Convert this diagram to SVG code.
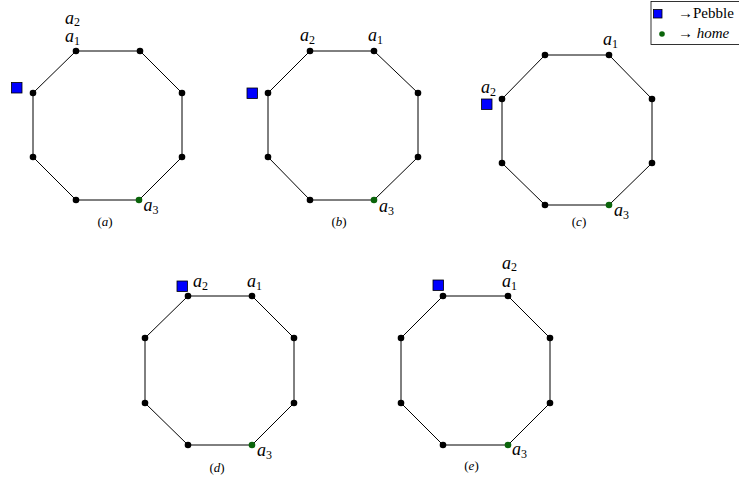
<svg xmlns="http://www.w3.org/2000/svg" width="739" height="483" viewBox="0 0 739 483">
<style>
.e{stroke:#000;stroke-width:1;fill:none}
.n{fill:#000}
.h{fill:#0a640a}
.p{fill:#0000ff;stroke:#000;stroke-width:0.8}
.lb{font-family:"Liberation Serif","DejaVu Serif",serif;font-style:italic;font-size:18px;fill:#000}
.sb{font-size:12px;font-style:normal}
.cap{font-family:"Liberation Serif","DejaVu Serif",serif;font-size:13px;fill:#000;text-anchor:middle}
.lg{font-family:"Liberation Serif","DejaVu Serif",serif;font-size:15px;fill:#000}
</style>
<rect width="739" height="483" fill="#fff"/>
<g id="connectors">
<polygon class="e" points="76,51 140,51 182,93 182,157 139,200 76,200 33,157 33,93"/>
<polygon class="e" points="310,51 374,51 418,93 418,157 374,200 310,200 268,157 268,93"/>
<polygon class="e" points="545,55 609,55 652,99 652,163 609,205 545,205 502,163 502,99"/>
<polygon class="e" points="188,296 252,296 294,338 294,403 252,445 188,445 145,403 145,338"/>
<polygon class="e" points="443,296 508,296 550,338 550,403 508,445 443,445 401,403 401,338"/>
</g>
<g id="panel-a">
<g id="a-v1"><circle class="n" cx="76" cy="51" r="3.3"/></g>
<g id="a-v2"><circle class="n" cx="140" cy="51" r="3.3"/></g>
<g id="a-v3"><circle class="n" cx="182" cy="93" r="3.3"/></g>
<g id="a-v4"><circle class="n" cx="182" cy="157" r="3.3"/></g>
<g id="a-v5"><circle class="h" cx="139" cy="200" r="3.3"/></g>
<g id="a-v6"><circle class="n" cx="76" cy="200" r="3.3"/></g>
<g id="a-v7"><circle class="n" cx="33" cy="157" r="3.3"/></g>
<g id="a-v8"><circle class="n" cx="33" cy="93" r="3.3"/></g>
<g id="a-pebble"><rect class="p" x="11.5" y="82.5" width="10.5" height="10.5"/></g>
<text class="lb" x="65" y="23.5">a<tspan class="sb" dy="2.5">2</tspan></text>
<text class="lb" x="65" y="42">a<tspan class="sb" dy="2.5">1</tspan></text>
<text class="lb" x="143.5" y="211">a<tspan class="sb" dy="2.5">3</tspan></text>
<text class="cap" x="105" y="226">(<tspan font-style="italic">a</tspan>)</text>
</g>
<g id="panel-b">
<g id="b-v1"><circle class="n" cx="310" cy="51" r="3.3"/></g>
<g id="b-v2"><circle class="n" cx="374" cy="51" r="3.3"/></g>
<g id="b-v3"><circle class="n" cx="418" cy="93" r="3.3"/></g>
<g id="b-v4"><circle class="n" cx="418" cy="157" r="3.3"/></g>
<g id="b-v5"><circle class="h" cx="374" cy="200" r="3.3"/></g>
<g id="b-v6"><circle class="n" cx="310" cy="200" r="3.3"/></g>
<g id="b-v7"><circle class="n" cx="268" cy="157" r="3.3"/></g>
<g id="b-v8"><circle class="n" cx="268" cy="93" r="3.3"/></g>
<g id="b-pebble"><rect class="p" x="247" y="88" width="10.5" height="10.5"/></g>
<text class="lb" x="300" y="41">a<tspan class="sb" dy="2.5">2</tspan></text>
<text class="lb" x="368" y="41">a<tspan class="sb" dy="2.5">1</tspan></text>
<text class="lb" x="379" y="212">a<tspan class="sb" dy="2.5">3</tspan></text>
<text class="cap" x="339" y="226">(<tspan font-style="italic">b</tspan>)</text>
</g>
<g id="panel-c">
<g id="c-v1"><circle class="n" cx="545" cy="55" r="3.3"/></g>
<g id="c-v2"><circle class="n" cx="609" cy="55" r="3.3"/></g>
<g id="c-v3"><circle class="n" cx="652" cy="99" r="3.3"/></g>
<g id="c-v4"><circle class="n" cx="652" cy="163" r="3.3"/></g>
<g id="c-v5"><circle class="h" cx="609" cy="205" r="3.3"/></g>
<g id="c-v6"><circle class="n" cx="545" cy="205" r="3.3"/></g>
<g id="c-v7"><circle class="n" cx="502" cy="163" r="3.3"/></g>
<g id="c-v8"><circle class="n" cx="502" cy="99" r="3.3"/></g>
<g id="c-pebble"><rect class="p" x="481.5" y="99" width="10.5" height="10.5"/></g>
<text class="lb" x="481" y="93">a<tspan class="sb" dy="2.5">2</tspan></text>
<text class="lb" x="603" y="45">a<tspan class="sb" dy="2.5">1</tspan></text>
<text class="lb" x="614" y="216">a<tspan class="sb" dy="2.5">3</tspan></text>
<text class="cap" x="579" y="226">(<tspan font-style="italic">c</tspan>)</text>
</g>
<g id="panel-d">
<g id="d-v1"><circle class="n" cx="188" cy="296" r="3.3"/></g>
<g id="d-v2"><circle class="n" cx="252" cy="296" r="3.3"/></g>
<g id="d-v3"><circle class="n" cx="294" cy="338" r="3.3"/></g>
<g id="d-v4"><circle class="n" cx="294" cy="403" r="3.3"/></g>
<g id="d-v5"><circle class="h" cx="252" cy="445" r="3.3"/></g>
<g id="d-v6"><circle class="n" cx="188" cy="445" r="3.3"/></g>
<g id="d-v7"><circle class="n" cx="145" cy="403" r="3.3"/></g>
<g id="d-v8"><circle class="n" cx="145" cy="338" r="3.3"/></g>
<g id="d-pebble"><rect class="p" x="177" y="281" width="10.5" height="10.5"/></g>
<text class="lb" x="193" y="287">a<tspan class="sb" dy="2.5">2</tspan></text>
<text class="lb" x="247" y="287">a<tspan class="sb" dy="2.5">1</tspan></text>
<text class="lb" x="257" y="456">a<tspan class="sb" dy="2.5">3</tspan></text>
<text class="cap" x="217" y="472">(<tspan font-style="italic">d</tspan>)</text>
</g>
<g id="panel-e">
<g id="e-v1"><circle class="n" cx="443" cy="296" r="3.3"/></g>
<g id="e-v2"><circle class="n" cx="508" cy="296" r="3.3"/></g>
<g id="e-v3"><circle class="n" cx="550" cy="338" r="3.3"/></g>
<g id="e-v4"><circle class="n" cx="550" cy="403" r="3.3"/></g>
<g id="e-v5"><circle class="h" cx="508" cy="445" r="3.3"/></g>
<g id="e-v6"><circle class="n" cx="443" cy="445" r="3.3"/></g>
<g id="e-v7"><circle class="n" cx="401" cy="403" r="3.3"/></g>
<g id="e-v8"><circle class="n" cx="401" cy="338" r="3.3"/></g>
<g id="e-pebble"><rect class="p" x="433" y="280" width="10.5" height="10.5"/></g>
<text class="lb" x="502" y="268.5">a<tspan class="sb" dy="2.5">2</tspan></text>
<text class="lb" x="502" y="287">a<tspan class="sb" dy="2.5">1</tspan></text>
<text class="lb" x="512" y="455">a<tspan class="sb" dy="2.5">3</tspan></text>
<text class="cap" x="471.5" y="470">(<tspan font-style="italic">e</tspan>)</text>
</g>
<g id="legend">
<rect x="651" y="1.5" width="95" height="43" fill="#fff" stroke="#000" stroke-width="0.8"/>
<rect class="p" x="653.5" y="9.5" width="8.5" height="8.5"/>
<text class="lg" x="678" y="18">→Pebble</text>
<circle class="h" cx="662" cy="34" r="2.8"/>
<text class="lg" x="678" y="38">→ <tspan font-style="italic">home</tspan></text>
</g>
</svg>
